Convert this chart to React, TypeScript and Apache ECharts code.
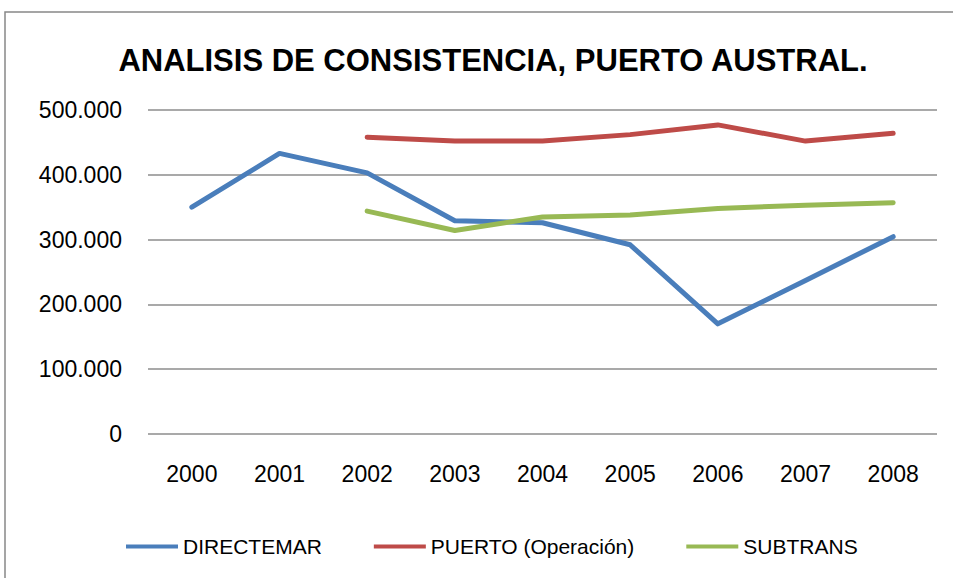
import React, { useEffect, useRef } from "react";
import * as echarts from "echarts";

const years = ["2000", "2001", "2002", "2003", "2004", "2005", "2006", "2007", "2008"];
const directemar = [350000, 433000, 403000, 329000, 326000, 292000, 170000, 237000, 304500];
const puerto = [null, null, 458000, 452000, 452000, 462000, 477000, 452000, 464000];
const subtrans = [null, null, 344000, 314000, 335000, 338000, 348000, 353000, 357000];

const FONT = "'Liberation Sans', Arial, sans-serif";

const fmt = (v: number) => String(v).replace(/\B(?=(\d{3})+(?!\d))/g, ".");

export default function App() {
  const ref = useRef<HTMLDivElement>(null);
  useEffect(() => {
    const chart = echarts.init(ref.current!, null, { renderer: "svg" });
    chart.setOption({
      animation: false,
      backgroundColor: "#fff",
      title: {
        text: "ANALISIS DE CONSISTENCIA, PUERTO AUSTRAL.",
        left: 488,
        textAlign: "center",
        top: 40,
        textStyle: { fontFamily: FONT, fontWeight: "bold", fontSize: 31, color: "#000" },
      },
      graphic: [
        {
          type: "rect",
          shape: { x: 5, y: 12, width: 1000, height: 700 },
          style: { fill: "none", stroke: "#888", lineWidth: 1.5 },
          silent: true,
        },
      ],
      grid: { left: 148, right: 16, top: 110, bottom: 144 },
      legend: {
        bottom: 16,
        left: 121,
        itemWidth: 52,
        itemHeight: 4,
        itemGap: 52,
        icon: "rect",
        textStyle: { fontFamily: FONT, fontSize: 21, color: "#000" },
        data: ["DIRECTEMAR", "PUERTO (Operación)", "SUBTRANS"],
      },
      xAxis: {
        type: "category",
        data: years,
        boundaryGap: true,
        axisLine: { show: false },
        axisTick: { show: false },
        axisLabel: { fontFamily: FONT, fontSize: 23, color: "#000", margin: 28 },
      },
      yAxis: {
        type: "value",
        min: 0,
        max: 500000,
        interval: 100000,
        axisLine: { show: false },
        axisTick: { show: false },
        axisLabel: { fontFamily: FONT, fontSize: 23, color: "#000", margin: 26, formatter: (v: number) => fmt(v) },
        splitLine: { lineStyle: { color: "#8c8c8c", width: 1.5 } },
      },
      series: [
        {
          name: "DIRECTEMAR",
          type: "line",
          data: directemar,
          showSymbol: false,
          symbol: "none",
          color: "#4A7EBB",
          lineStyle: { width: 5, color: "#4A7EBB", cap: "round", join: "round" },
        },
        {
          name: "PUERTO (Operación)",
          type: "line",
          data: puerto,
          showSymbol: false,
          symbol: "none",
          color: "#BE4B48",
          lineStyle: { width: 5, color: "#BE4B48", cap: "round", join: "round" },
        },
        {
          name: "SUBTRANS",
          type: "line",
          data: subtrans,
          showSymbol: false,
          symbol: "none",
          color: "#98B954",
          lineStyle: { width: 5, color: "#98B954", cap: "round", join: "round" },
        },
      ],
    });
    return () => chart.dispose();
  }, []);
  return <div ref={ref} style={{ position: "fixed", left: 0, top: 0, width: 953, height: 578 }} />;
}
